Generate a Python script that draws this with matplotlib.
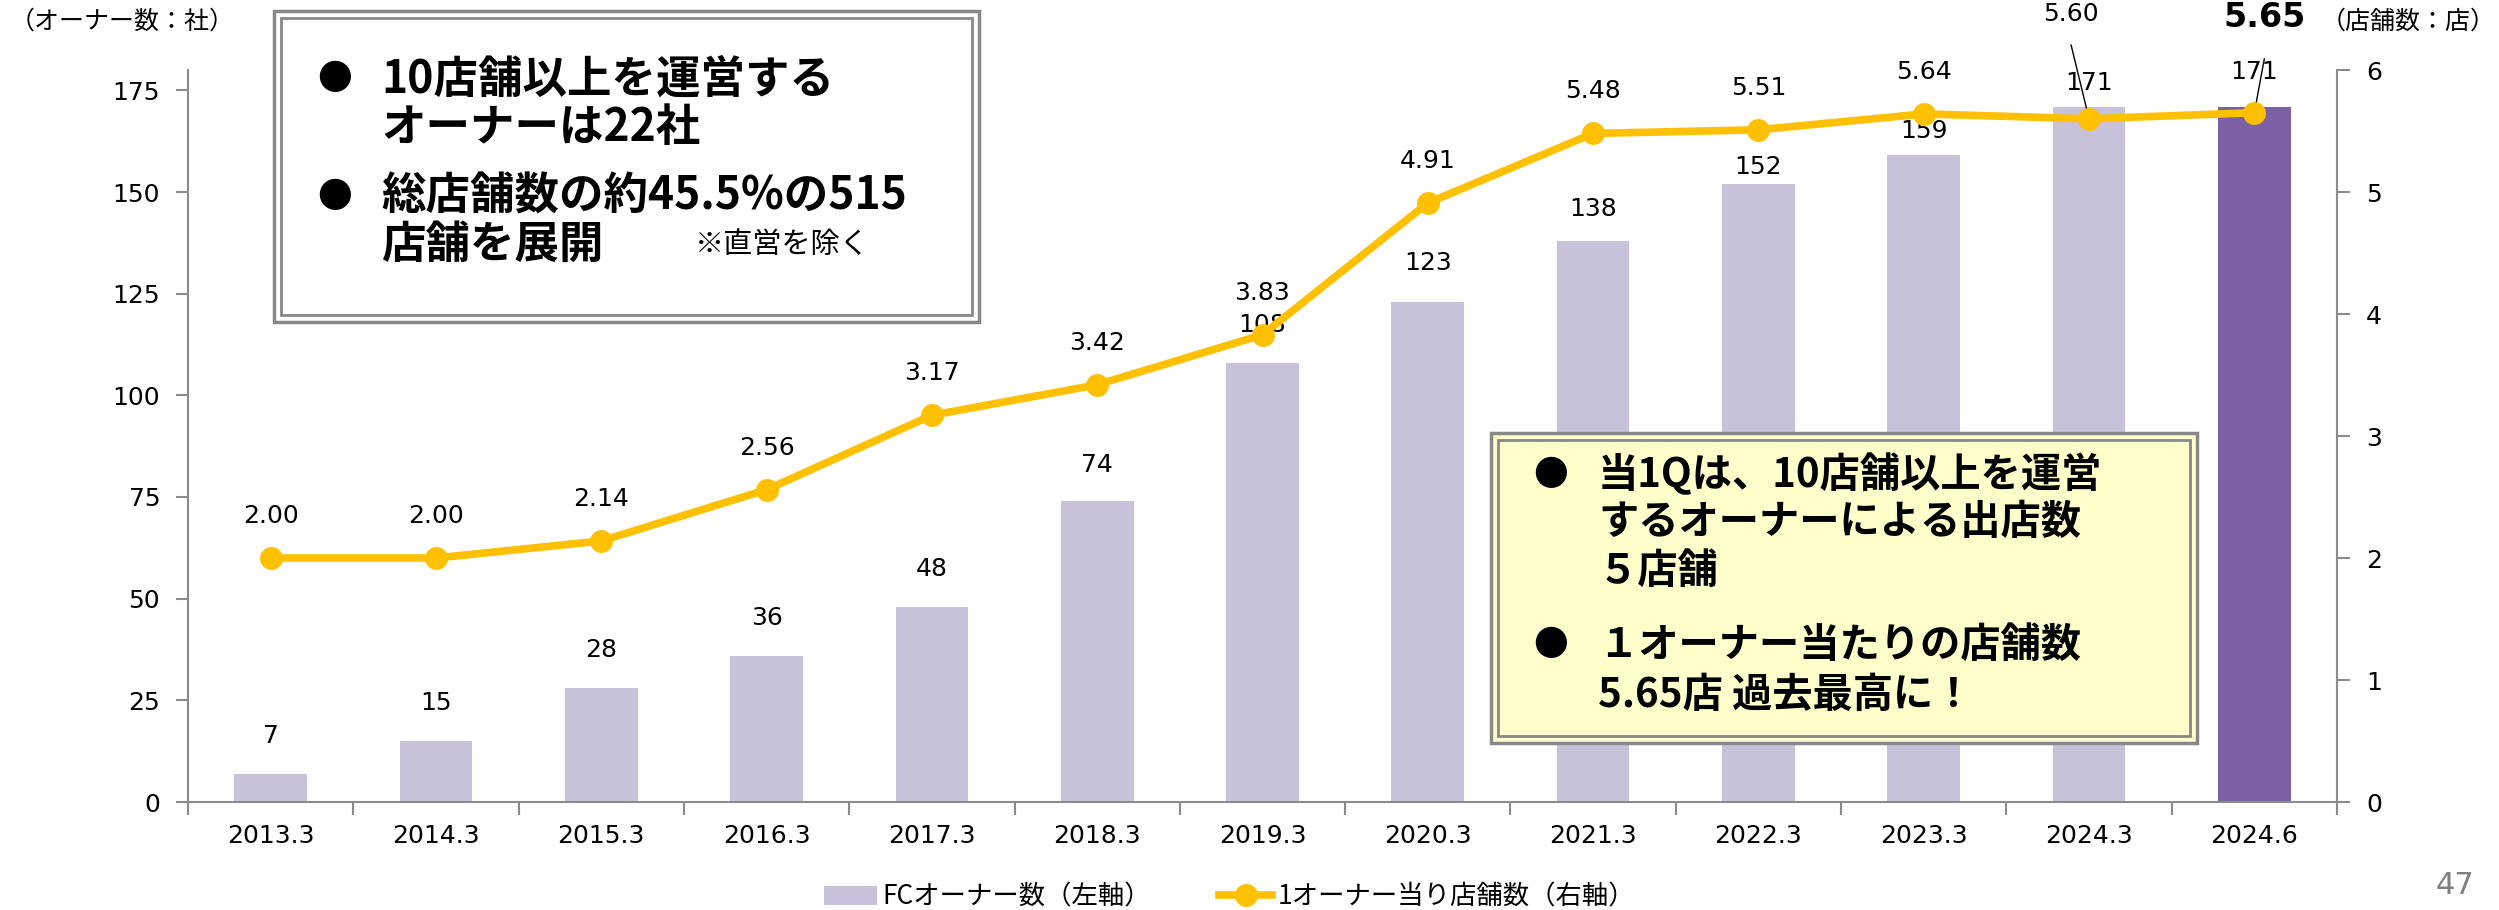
import matplotlib
matplotlib.use('Agg')
import matplotlib.pyplot as plt
import numpy as np
from matplotlib.patches import Rectangle

# ---------------- data ----------------
categories = ['2013.3', '2014.3', '2015.3', '2016.3', '2017.3', '2018.3', '2019.3',
              '2020.3', '2021.3', '2022.3', '2023.3', '2024.3', '2024.6']
owners = [7, 15, 28, 36, 48, 74, 108, 123, 138, 152, 159, 171, 171]
stores_per_owner = [2.00, 2.00, 2.14, 2.56, 3.17, 3.42, 3.83, 4.91, 5.48, 5.51, 5.64, 5.60, 5.65]
left_ticks = [0, 25, 50, 75, 100, 125, 150, 175]
right_ticks = [0, 1, 2, 3, 4, 5, 6]

# ---------------- style ----------------
W, H = 2499, 910
JP = ['Noto Sans CJK JP', 'DejaVu Sans']
plt.rcParams['font.family'] = ['DejaVu Sans', 'Noto Sans CJK JP']
GRAY = '#8C8C8C'
LIGHT = '#C8C1DA'
DARK = '#7B61A3'
GOLD = '#FFC000'

fig = plt.figure(figsize=(W / 100, H / 100), dpi=100)
ax = fig.add_axes([188 / W, 1 - 802 / H, (2337 - 188) / W, (802 - 70) / H])
x = np.arange(len(categories))

bar_colors = [LIGHT] * (len(categories) - 1) + [DARK]
bars = ax.bar(x, owners, width=0.44, color=bar_colors, edgecolor='none', zorder=2,
              label='FCオーナー数（左軸）')
ax.set_xlim(-0.5, len(categories) - 0.5)
ax.set_ylim(0, 180)
ax.set_yticks(left_ticks)
ax.set_xticks(x)
ax.set_xticklabels(categories)
ax.set_xticks(np.arange(-0.5, len(categories), 1), minor=True)
ax.tick_params(axis='x', which='major', length=0, labelsize=18, pad=16)
ax.tick_params(axis='x', which='minor', length=9, width=1.5, color=GRAY)
ax.tick_params(axis='y', length=9, width=1.5, color=GRAY, labelsize=18, pad=11)
for s in ['top', 'right']:
    ax.spines[s].set_visible(False)
for s in ['left', 'bottom']:
    ax.spines[s].set_color(GRAY)
    ax.spines[s].set_linewidth(1.5)

# bar value labels (pixel offsets above bar top)
bar_label_offsets = [38, 38, 38, 38, 38, 36, 38, 39, 32, 17, 24, 24, 35]
for xi, v, off in zip(x, owners, bar_label_offsets):
    ax.annotate(f'{v}', xy=(xi, v), xytext=(0, off), textcoords='offset pixels',
                ha='center', va='center', fontsize=18, zorder=3)

ax2 = ax.twinx()
ax2.set_ylim(0, 6)
ax2.set_yticks(right_ticks)
ax2.plot(x, stores_per_owner, color=GOLD, lw=5.5, marker='o', ms=15.5,
         zorder=4, label='1オーナー当り店舗数（右軸）')
ax2.tick_params(axis='y', length=9, width=1.5, color=GRAY, labelsize=18, pad=12)
for s in ['top', 'left', 'bottom']:
    ax2.spines[s].set_visible(False)
ax2.spines['right'].set_color(GRAY)
ax2.spines['right'].set_linewidth(1.5)

# line value labels
for xi, v in zip(x[:-2], stores_per_owner[:-2]):
    ax2.annotate(f'{v:.2f}', xy=(xi, v), xytext=(0, 42), textcoords='offset pixels',
                 ha='center', va='center', fontsize=18)
# callouts for the last two points
ax2.annotate('', xy=(x[-2], stores_per_owner[-2]), xytext=(-18, 74), textcoords='offset pixels',
             arrowprops=dict(arrowstyle='-', color='black', lw=1, shrinkA=0, shrinkB=0))
ax2.annotate(f'{stores_per_owner[-2]:.2f}', xy=(x[-2], stores_per_owner[-2]), xytext=(-18, 105),
             textcoords='offset pixels', ha='center', va='center', fontsize=18, annotation_clip=False)
ax2.annotate('', xy=(x[-1], stores_per_owner[-1]), xytext=(10, 54), textcoords='offset pixels',
             arrowprops=dict(arrowstyle='-', color='black', lw=1, shrinkA=0, shrinkB=0))
ax2.annotate(f'{stores_per_owner[-1]:.2f}', xy=(x[-1], stores_per_owner[-1]), xytext=(10, 95),
             textcoords='offset pixels', ha='center', va='center', fontsize=24,
             fontweight='bold', annotation_clip=False)

# axis unit labels
fig.text(10 / W, 1 - 22 / H, '（オーナー数：社）', family=JP, fontsize=18, ha='left', va='center')
fig.text(2496 / W, 1 - 22 / H, '（店舗数：店）', family=JP, fontsize=18, ha='right', va='center')

# legend
h1, l1 = ax.get_legend_handles_labels()
h2, l2 = ax2.get_legend_handles_labels()
fig.legend(h1 + h2, l1 + l2, loc='center', bbox_to_anchor=(0.492, 1 - 897 / H), ncol=2,
           frameon=False, prop={'family': JP, 'size': 19}, handlelength=2.0,
           handletextpad=0.2, columnspacing=2.6)

# page number
fig.text(2455 / W, 1 - 885 / H, '47', fontsize=22, color='#7F7F7F', ha='center', va='center')


def px_rect(x0, y0, x1, y1, **kw):
    r = Rectangle((x0 / W, 1 - y1 / H), (x1 - x0) / W, (y1 - y0) / H,
                  transform=fig.transFigure, **kw)
    fig.add_artist(r)
    return r


def boxed(x0, y0, x1, y1, fill):
    px_rect(x0, y0, x1, y1, facecolor=fill, edgecolor='#888888', lw=2.5, zorder=10)
    px_rect(x0 + 7, y0 + 7, x1 - 7, y1 - 7, facecolor='none', edgecolor='#888888', lw=2, zorder=11)


def ptext(xp, yp, s, **kw):
    fig.text(xp / W, 1 - yp / H, s, family=JP, va='center', zorder=12, **kw)


# left text box
boxed(274, 11, 979, 322, 'white')
ptext(335, 80, '●', fontsize=25, ha='center')
ptext(381, 80, '10店舗以上を運営する', fontsize=32, fontweight='bold')
ptext(381, 128, 'オーナーは22社', fontsize=32, fontweight='bold')
ptext(335, 197, '●', fontsize=25, ha='center')
ptext(381, 197, '総店舗数の約45.5%の515', fontsize=32, fontweight='bold')
ptext(381, 245, '店舗を展開', fontsize=32, fontweight='bold')
ptext(695, 245, '※直営を除く', fontsize=21)

# right text box
boxed(1491, 433, 2197, 743, '#FFFFCC')
ptext(1551, 475, '●', fontsize=25, ha='center')
ptext(1598, 475, '当1Qは、10店舗以上を運営', fontsize=29, fontweight='bold')
ptext(1598, 523, 'するオーナーによる出店数', fontsize=29, fontweight='bold')
ptext(1598, 571, '５店舗', fontsize=29, fontweight='bold')
ptext(1551, 645, '●', fontsize=25, ha='center')
ptext(1598, 645, '１オーナー当たりの店舗数', fontsize=29, fontweight='bold')
ptext(1598, 695, '5.65店 過去最高に！', fontsize=29, fontweight='bold')

fig.savefig('out.png', dpi=100)
